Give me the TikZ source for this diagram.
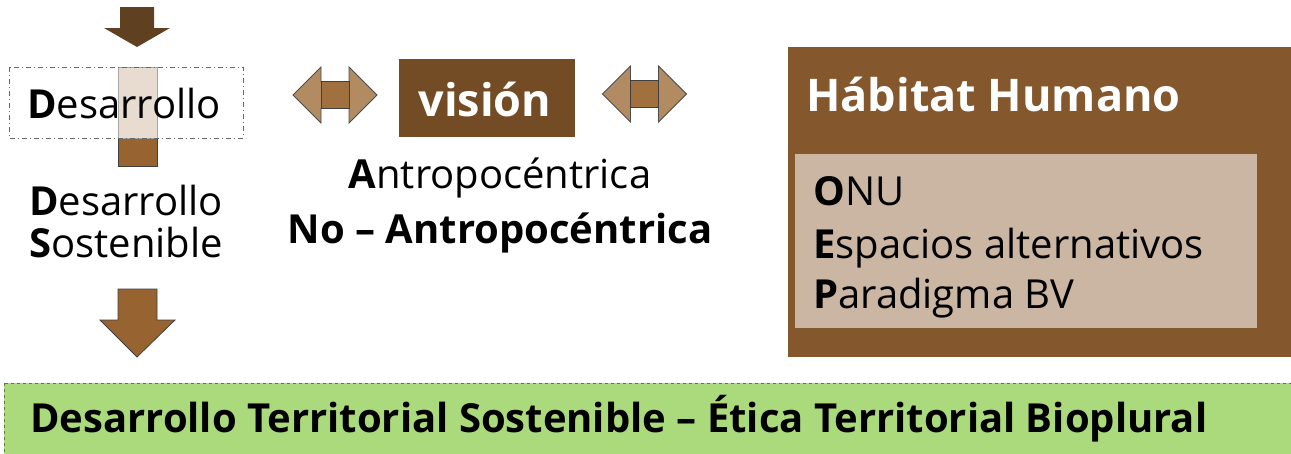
\documentclass[tikz,border=0pt]{standalone}
\usepackage{fontspec}
\setmainfont{Open Sans}
\usetikzlibrary{calc}

\definecolor{brdark}{HTML}{5F4121}
\definecolor{brarrow}{HTML}{976431}
\definecolor{brvision}{HTML}{734C26}
\definecolor{brhabitat}{HTML}{84572C}
\definecolor{brpale}{HTML}{CAB6A2}
\definecolor{brtan}{HTML}{B38B63}
\definecolor{brshaft}{HTML}{A0703F}
\definecolor{brghost}{HTML}{E8DCD0}
\definecolor{greenbar}{HTML}{AADA7B}

\tikzset{
  lbl/.style={inner sep=0pt, font=\fontsize{40}{42}\selectfont},
  lblbold/.style={inner sep=0pt, font=\fontsize{40}{42}\selectfont\bfseries},
  hdr/.style={inner sep=0pt, text=white, font=\fontsize{45}{48}\selectfont\bfseries},
  blockarrow/.style={fill=brarrow, draw=black!75, line width=0.8pt},
  dblhead/.style={fill=brtan, draw=black!70, line width=0.8pt},
  dblshaft/.style={fill=brshaft, draw=black!75, line width=0.8pt}
}

\begin{document}
\begin{tikzpicture}[x=1pt, y=-1pt]
\useasboundingbox (0,0) rectangle (1291,453);

% down arrow on top
\fill[brdark] (120,7)--(154,7)--(154,28)--(170,28)--(137,47)--(104,28)--(120,28)--cycle;

% shaft through the first box
\draw[blockarrow] (118,138) rectangle (157,166);
\draw[fill=brghost, draw=black!35, line width=0.6pt] (118,67) rectangle (157,138);
\draw[black!60, line width=0.8pt, dash pattern=on 5pt off 3pt on 1pt off 3pt] (9,67) rectangle (243,138);
\node[lbl, anchor=base] (desa) at (124,118) {\textbf{D}esarrollo};

\node[lbl, anchor=base] (desa2) at (126,215) {\textbf{D}esarrollo};
\node[lbl, anchor=base] (sost) at (126,257) {\textbf{S}ostenible};

% down arrow to the bar
\draw[blockarrow] (118,289)--(157,289)--(157,320)--(175,320)--(137,357)--(100,320)--(118,320)--cycle;

% double arrows round the vision box
\foreach \cx/\cy in {335/95, 644.5/94} {
  \draw[dblhead] (\cx-42,\cy)--(\cx-14,\cy-28)--(\cx-14,\cy-13.5)--(\cx+14,\cy-13.5)--(\cx+14,\cy-28)--(\cx+42,\cy)
    --(\cx+14,\cy+28)--(\cx+14,\cy+13.5)--(\cx-14,\cy+13.5)--(\cx-14,\cy+28)--cycle;
  \draw[dblshaft] (\cx-14,\cy-13.5) rectangle (\cx+14,\cy+13.5);
}

\fill[brvision] (399,59) rectangle (575,137);
\node[hdr, anchor=base] (vision) at (485,116) {visión};

\node[lbl, anchor=base] (antro) at (500,188) {\textbf{A}ntropocéntrica};
\node[lblbold, anchor=base] (noantro) at (500,243) {No – Antropocéntrica};

% habitat humano
\fill[brhabitat] (788,47) rectangle (1295,357);
\node[hdr, anchor=base west] (habitat) at (806,111) {Hábitat Humano};
\fill[brpale] (795,154) rectangle (1257,328);
\foreach \lt/\rest/\yy [count=\i] in {O/NU/205, E/spacios alternativos/258, P/aradigma BV/308}
  \node[lbl, anchor=base west] (item\i) at (813,\yy) {\textbf{\lt}\rest};

% bottom bar
\draw[fill=greenbar, draw=brdark!80, line width=0.8pt, dashed] (4,383) rectangle (1300,460);
\node[lblbold, anchor=base west] (etica) at (30,432) {Desarrollo Territorial Sostenible – Ética Territorial Bioplural};

\end{tikzpicture}
\end{document}
